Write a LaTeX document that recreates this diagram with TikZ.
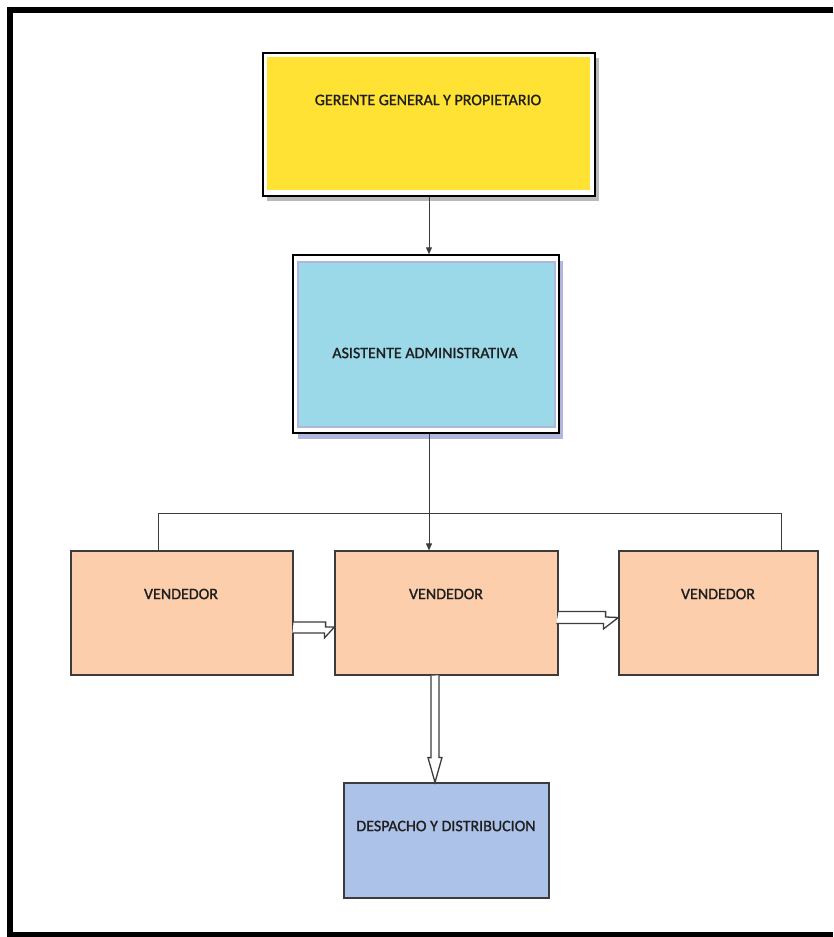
\documentclass[tikz,border=0pt]{standalone}
\usepackage{fontspec}
\setmainfont{Carlito}
\newfontfamily\boxfont[FakeBold=1.2]{Carlito}
\usetikzlibrary{calc,arrows.meta}
\definecolor{yel}{RGB}{255,226,52}
\definecolor{cyanb}{RGB}{155,216,232}
\definecolor{lav}{RGB}{176,182,220}
\definecolor{peach}{RGB}{252,206,172}
\definecolor{despb}{RGB}{173,194,232}
\definecolor{edge}{RGB}{60,60,60}
\tikzset{
  box/.style={draw=edge, line width=1.2pt, inner sep=0pt, rectangle},
  lbl/.style={font=\boxfont\fontsize{16}{19}\selectfont, text=black!88, inner sep=0pt},
  conn/.style={draw=edge, line width=1pt},
  tip/.style={-{Triangle[length=7pt,width=6pt]}},
  hollow/.style={draw=edge, line width=1.3pt, fill=white, line join=miter}
}
\begin{document}
\begin{tikzpicture}[x=1pt,y=-1pt]
\fill[white] (0,0) rectangle (833,937);
\useasboundingbox (0,0) rectangle (833,937);
% outer frame (right side lies outside the picture)
\draw[line width=6pt, line join=miter] (833,10) -- (9.5,10) -- (9.5,935) -- (833,935);

% yellow box with shadow
\fill[gray!55] (267,58) rectangle (599,201);
\node[box, draw=black, line width=1.5pt, fill=white, minimum width=332pt, minimum height=143pt] (gen) at (429,124.5) {};
\fill[yel] (267,57) rectangle (590,190);
\node[lbl] (tgen) at (428,100) {GERENTE GENERAL Y PROPIETARIO};

% blue box with shadow
\fill[lav] (298,261) rectangle (563,439);
\node[box, draw=black, line width=1.5pt, fill=white, minimum width=266pt, minimum height=178pt] (asi) at (426,344) {};
\draw[lav, line width=1.5pt, fill=cyanb] (298,262) rectangle (555,427);
\node[lbl] (tasi) at (425,353) {ASISTENTE ADMINISTRATIVA};

% vendedores
\node[box, fill=peach, minimum width=222pt, minimum height=124pt] (v1) at (182,613) {};
\node[box, fill=peach, minimum width=223pt, minimum height=124pt] (v2) at (446.5,613) {};
\node[box, fill=peach, minimum width=199pt, minimum height=124pt] (v3) at (718.5,613) {};
\node[lbl] (tv1) at (181,594) {VENDEDOR};
\node[lbl] (tv2) at (446,594) {VENDEDOR};
\node[lbl] (tv3) at (718,594) {VENDEDOR};

% despacho
\node[box, fill=despb, minimum width=205pt, minimum height=115pt] (des) at (446.5,840.5) {};
\node[lbl] (tdes) at (446,826) {DESPACHO Y DISTRIBUCION};

% connectors
\draw[conn, tip] (gen.south) -- (gen.south |- asi.north);
\draw[conn, tip] (gen.south |- asi.south) -- (gen.south |- v2.north);
\coordinate (hl) at ($(v1.north)+(-24,-37)$);
\coordinate (hr) at ($(v3.north)+(62.5,-37)$);
\draw[conn] ($(v1.north)+(-24,0)$) -- (hl) -- (hr) -- ($(v3.north)+(62.5,0)$);

% hollow arrows
\draw[hollow] ($(v1.east)+(0,9)$) -- ++(32,0) -- ++(0,5) -- (v2.west |- 0,627) -- ++(-10,11) -- ++(0,-5) -- ++(-32,0);
\draw[hollow] ($(v2.east)+(0,-1.5)$) -- ++(47,0) -- ++(0,5.5) -- (v3.west |- 0,617.5) -- ++(-15,11.5) -- ++(0,-5.5) -- ++(-47,0);
\draw[hollow] ($(v2.south)+(-15.5,0)$) -- ++(0,82) -- ++(-3,0) -- ($(v2.south |- des.north)+(-11.5,0)$) -- ++(7,-25) -- ++(-3,0) -- ++(0,-82);
\end{tikzpicture}
\end{document}
